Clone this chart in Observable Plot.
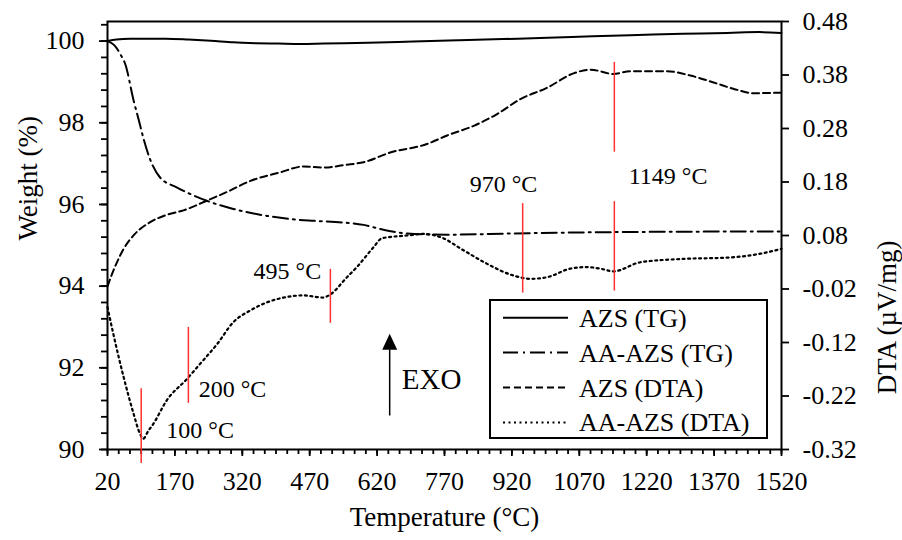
<!DOCTYPE html>
<html><head><meta charset="utf-8">
<script src="https://cdn.jsdelivr.net/npm/d3@7"></script>
<script src="https://cdn.jsdelivr.net/npm/@observablehq/plot@0.6"></script>
<style>
body{margin:0;background:#fff;}
#wrap{position:relative;width:902px;height:540px;font-family:"Liberation Serif","Times New Roman",serif;}
#wrap svg, #wrap text{font-family:"Liberation Serif","Times New Roman",serif;}
</style></head>
<body><div id="wrap"></div>
<script>
// ---- data ----
const azsTG_T = [20,40,70,100,150,200,250,300,350,400,450,500,600,700,800,900,1000,1100,1200,1300,1400,1470,1520];
const azsTG_W = [100.00,100.04,100.06,100.06,100.06,100.04,100.01,99.97,99.95,99.94,99.93,99.94,99.96,99.99,100.02,100.05,100.08,100.12,100.15,100.18,100.20,100.22,100.20];

const aaTG_T = [20,35,48,60,78,90,100,115,137,174,241,300,375,449,480,590,627,687,775,923,1117,1520];
const aaTG_W = [100.0,99.90,99.69,99.42,98.55,98.05,97.62,97.10,96.66,96.42,96.09,95.89,95.72,95.62,95.60,95.50,95.40,95.29,95.26,95.29,95.32,95.34];

const azsDTA_T = [20,30,40,56,80,115,150,189,241,290,338,404,456,500,550,590,649,731,776,835,887,939,998,1057,1095,1146,1184,1265,1317,1369,1414,1458,1520];
const azsDTA_D = [-0.015,0.008,0.028,0.055,0.082,0.105,0.118,0.127,0.145,0.163,0.182,0.198,0.209,0.207,0.212,0.217,0.235,0.251,0.267,0.285,0.307,0.335,0.356,0.383,0.390,0.382,0.387,0.387,0.379,0.366,0.354,0.346,0.347];

const aaDTA_T = [20,33,56,78,92,99,111,122,152,197,226,264,300,338,375,412,456,500,516,553,575,612,631,687,723,761,813,865,924,961,998,1050,1087,1117,1146,1206,1295,1406,1473,1520];
const aaDTA_D = [-0.054,-0.104,-0.185,-0.253,-0.290,-0.300,-0.285,-0.272,-0.228,-0.188,-0.160,-0.123,-0.082,-0.060,-0.045,-0.036,-0.032,-0.036,-0.030,0.002,0.021,0.058,0.075,0.080,0.083,0.077,0.052,0.027,0.005,-0.001,0.002,0.018,0.021,0.018,0.013,0.030,0.036,0.039,0.046,0.055];

// tick values
const xMajor = [20,170,320,470,620,770,920,1070,1220,1370,1520];
const wMajor = [90,92,94,96,98,100];
const dtaTicks = [-0.32,-0.22,-0.12,-0.02,0.08,0.18,0.28,0.38,0.48];

// annotations
const markerT = [95, 200, 516, 944, 1148, 1148];
const markerTop = [91.49, 92.99, 94.41, 96.02, 99.48, 96.07];
const markerBottom = [89.66, 91.13, 93.09, 93.83, 97.28, 93.88];
const labelText = ["100 °C","200 °C","495 °C","970 °C","1149 °C"];
const labelT = [151, 223, 345, 826, 1180];
const labelW = [90.29, 91.28, 94.18, 96.30, 96.51];
const exoT = 648, exoFrom = 90.82, exoTo = 92.44, exoHeadW = 92.59;
const exoLabelT = 675, exoLabelW = 91.49;

const legendLabels = ["AZS (TG)","AA-AZS (TG)","AZS (DTA)","AA-AZS (DTA)"];

// ---- mapping of the secondary (DTA) axis onto the weight scale ----
const wMin = 90, wMax = 100.48, dMin = -0.32, dMax = 0.48;
const k = (wMax - wMin) / (dMax - dMin);
const toW = d => wMin + (d - dMin) * k;
const toD = w => (w - wMin) / k + dMin;

const zip = (T, V, f) => T.map((t, i) => ({T: t, W: f ? f(V[i]) : V[i]}));
const sAzsTG = zip(azsTG_T, azsTG_W);
const sAaTG = zip(aaTG_T, aaTG_W);
const sAzsDTA = zip(azsDTA_T, azsDTA_D, toW);
const sAaDTA = zip(aaDTA_T, aaDTA_D, toW);

const markers = markerT.map((t, i) => ({T: t, y1: markerTop[i], y2: markerBottom[i]}));
const labels = labelText.map((s, i) => ({s, T: labelT[i], W: labelW[i]}));

const xMinor = d3.range(20, 1521, 25);
const wMinor = d3.range(0, 27).map(i => +(90 + i * 0.4).toFixed(1));

const font = '"Liberation Serif", "Times New Roman", serif';
const dashTG2 = "15,5,2,5", dashDTA1 = "7,4", dashDTA2 = "2,3.5";
const triangle = {draw(ctx){ ctx.moveTo(0,-10); ctx.lineTo(7.5,6); ctx.lineTo(-7.5,6); ctx.closePath(); }};

const chart = Plot.plot({
  width: 902, height: 540,
  marginLeft: 107, marginRight: 121, marginTop: 21, marginBottom: 91,
  x: {domain: [20, 1520]},
  y: {domain: [wMin, wMax]},
  style: {fontFamily: font, fontSize: "26px", color: "#000", background: "#fff", overflow: "visible"},
  marks: [
    Plot.axisX({ticks: xMinor, tickSize: 5, tickFormat: () => "", label: null, strokeWidth: 1.8}),
    Plot.axisX({ticks: xMajor, tickSize: 7, tickPadding: 15, tickFormat: d => String(d), label: null, strokeWidth: 1.8}),
    Plot.axisY({anchor: "left", ticks: wMinor, tickSize: 6, tickFormat: () => "", label: null, strokeWidth: 1.8}),
    Plot.axisY({anchor: "left", ticks: wMajor, tickSize: 8, tickPadding: 15, tickFormat: d => String(d), label: null, strokeWidth: 1.8}),
    Plot.axisY({anchor: "right", ticks: dtaTicks.map(toW), tickSize: 7, tickPadding: 14, tickFormat: w => toD(w).toFixed(2), label: null, strokeWidth: 1.8}),
    Plot.frame({stroke: "#000", strokeWidth: 2}),
    Plot.line(sAzsTG, {x: "T", y: "W", stroke: "#000", strokeWidth: 2, curve: "monotone-x"}),
    Plot.line(sAaTG, {x: "T", y: "W", stroke: "#000", strokeWidth: 2, strokeDasharray: dashTG2, curve: "monotone-x"}),
    Plot.line(sAzsDTA, {x: "T", y: "W", stroke: "#000", strokeWidth: 2, strokeDasharray: dashDTA1, curve: "monotone-x"}),
    Plot.line(sAaDTA, {x: "T", y: "W", stroke: "#000", strokeWidth: 2.2, strokeDasharray: dashDTA2, curve: "monotone-x"}),
    Plot.ruleX(markers, {x: "T", y1: "y1", y2: "y2", stroke: "#ff3030", strokeWidth: 1.5}),
    Plot.text(labels, {x: "T", y: "W", text: "s", textAnchor: "start", lineAnchor: "bottom", fontSize: 24}),
    Plot.ruleX([exoT], {x: d => d, y1: exoFrom, y2: exoTo, stroke: "#000", strokeWidth: 1.5}),
    Plot.dot([exoT], {x: d => d, y: exoHeadW, symbol: triangle, fill: "#000", stroke: null}),
    Plot.text(["EXO"], {x: exoLabelT, y: exoLabelW, text: d => d, textAnchor: "start", lineAnchor: "bottom", fontSize: 29}),
    Plot.text(["Weight (%)"], {frameAnchor: "left", text: d => d, rotate: -90, lineAnchor: "bottom", dx: -71, dy: 5, fontSize: 27}),
    Plot.text(["DTA (µV/mg)"], {frameAnchor: "right", text: d => d, rotate: -90, lineAnchor: "bottom", dx: 114, dy: 5, fontSize: 27}),
    Plot.text(["Temperature (°C)"], {frameAnchor: "bottom", text: d => d, lineAnchor: "bottom", dy: 76, fontSize: 27})
  ]
});
document.getElementById("wrap").appendChild(chart);

// ---- legend (inside plot area, bottom right) ----
const dashes = [null, dashTG2, dashDTA1, dashDTA2];
const lg = d3.select("#wrap").append("svg")
  .attr("width", 902).attr("height", 540)
  .style("position", "absolute").style("left", "0px").style("top", "0px")
  .attr("font-family", font);
lg.append("rect").attr("x", 490).attr("y", 300).attr("width", 277).attr("height", 138)
  .attr("fill", "#fff").attr("stroke", "#000").attr("stroke-width", 2);
legendLabels.forEach((s, i) => {
  const y = 317.7 + i * 34.9;
  const ln = lg.append("line").attr("x1", 503).attr("x2", 568).attr("y1", y).attr("y2", y)
    .attr("stroke", "#000").attr("stroke-width", 2);
  if (dashes[i]) ln.attr("stroke-dasharray", dashes[i]);
  lg.append("text").attr("x", 579).attr("y", y + 9).attr("font-size", 26).attr("fill", "#000").text(s);
});
</script></body></html>
